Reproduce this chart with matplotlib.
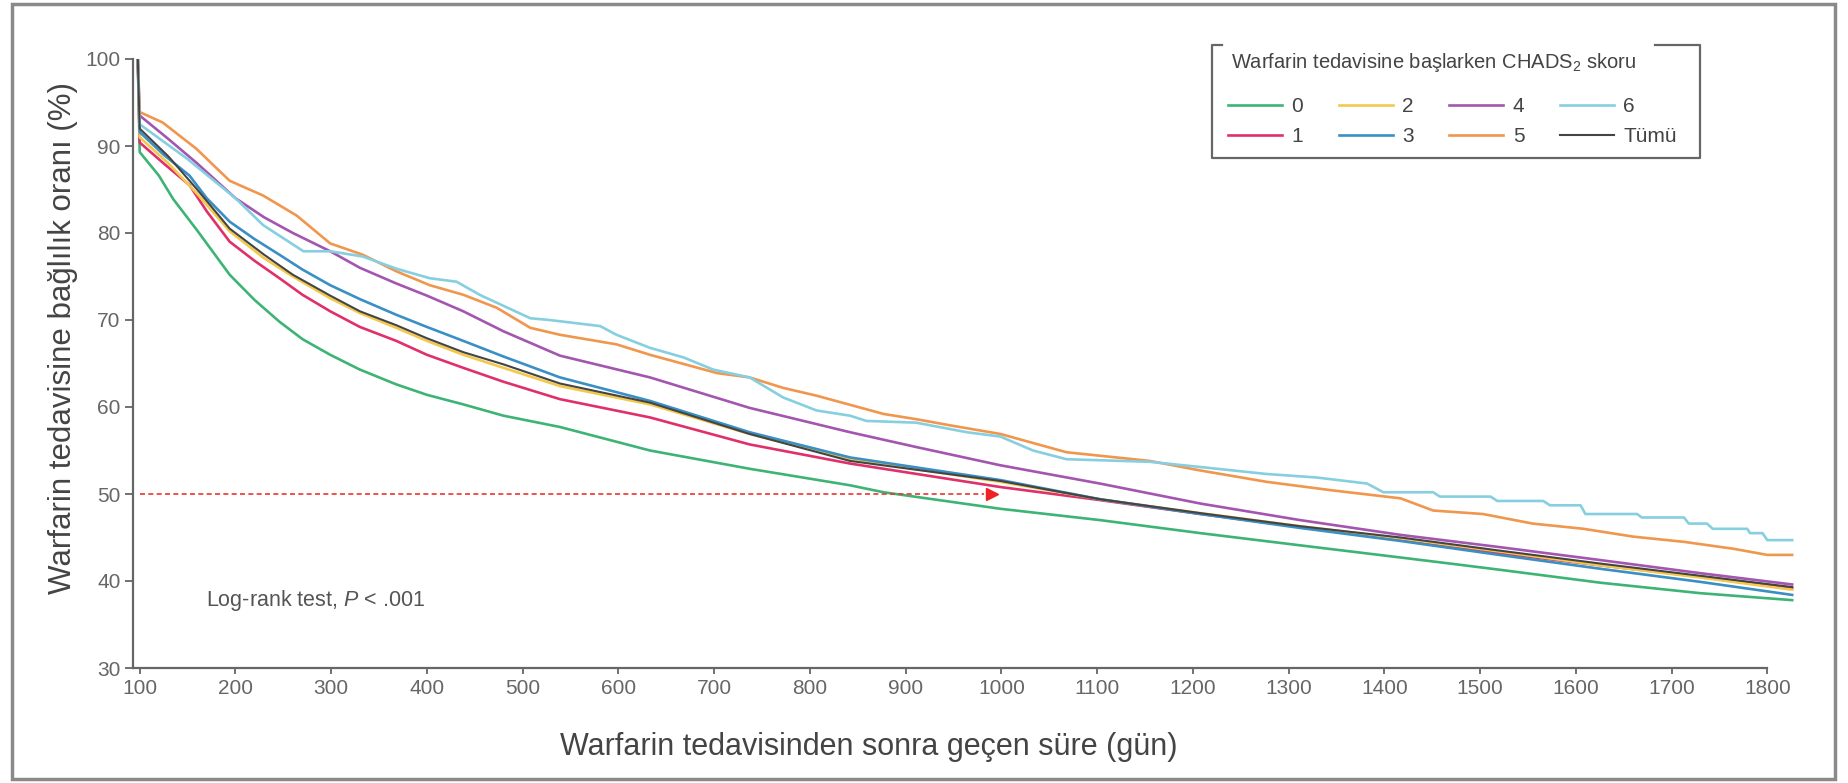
import matplotlib
matplotlib.use("Agg")
import matplotlib.pyplot as plt
from matplotlib.lines import Line2D
from matplotlib.patches import Rectangle

plt.rcParams["font.family"] = ["Liberation Sans", "DejaVu Sans"]
plt.rcParams["mathtext.fontset"] = "custom"
plt.rcParams["mathtext.rm"] = "Liberation Sans"
plt.rcParams["mathtext.it"] = "Liberation Sans:italic"

# --- data ---
days_0 = [98, 100, 120, 135, 160, 194, 220, 246, 270, 299, 330, 368, 400, 438, 480, 539, 633, 737, 842, 877, 999,
          1103, 1208, 1312, 1417, 1469, 1520, 1626, 1730, 1826]
score_0 = [100, 89.3, 86.6, 83.9, 80.3, 75.2, 72.3, 69.8, 67.8, 66.0, 64.3, 62.6, 61.4, 60.3, 59.0, 57.7, 55.0, 52.9, 51.0, 50.2, 48.3,
           47.0, 45.5, 44.1, 42.7, 42.0, 41.3, 39.8, 38.6, 37.8]

days_1 = [98, 100, 125, 152, 170, 194, 220, 246, 270, 299, 330, 368, 400, 438, 480, 539, 633, 737, 842, 999,
          1103, 1208, 1312, 1417, 1469, 1520, 1626, 1730, 1826]
score_1 = [100, 90.4, 88.0, 85.5, 82.5, 79.0, 76.8, 74.8, 72.9, 71.0, 69.2, 67.6, 66.0, 64.5, 62.9, 60.9, 58.8, 55.7, 53.5, 50.8,
           49.3, 47.7, 46.2, 44.7, 43.9, 43.2, 41.8, 40.5, 39.2]

days_2 = [98, 100, 130, 160, 194, 230, 260, 299, 330, 368, 400, 438, 480, 539, 633, 737, 842, 999,
          1103, 1208, 1312, 1417, 1520, 1626, 1730, 1826]
score_2 = [100, 91.0, 88.0, 84.5, 80.2, 77.1, 75.0, 72.5, 70.8, 69.1, 67.6, 66.0, 64.5, 62.4, 60.3, 56.9, 54.0, 51.4,
           49.4, 47.8, 46.3, 44.9, 43.4, 41.8, 40.4, 39.0]

days_3 = [98, 100, 125, 152, 170, 194, 220, 246, 270, 299, 330, 368, 400, 438, 480, 539, 633, 737, 842, 999,
          1103, 1208, 1312, 1417, 1520, 1626, 1730, 1826]
score_3 = [100, 91.6, 89.0, 86.6, 84.0, 81.3, 79.3, 77.5, 75.8, 74.0, 72.4, 70.6, 69.2, 67.6, 65.8, 63.4, 60.7, 57.1, 54.2, 51.6,
           49.4, 47.7, 46.1, 44.6, 43.0, 41.4, 39.9, 38.4]

days_4 = [98, 100, 130, 159, 200, 230, 260, 299, 330, 368, 400, 438, 480, 539, 633, 737, 842, 911, 999,
          1103, 1208, 1312, 1417, 1520, 1626, 1730, 1826]
score_4 = [100, 93.5, 90.8, 88.1, 84.0, 81.8, 80.0, 77.9, 76.0, 74.2, 72.8, 71.0, 68.7, 65.9, 63.4, 59.9, 57.1, 55.4, 53.3,
           51.2, 48.9, 47.0, 45.3, 43.9, 42.4, 40.9, 39.6]

days_5 = [98, 100, 124, 159, 194, 229, 264, 299, 333, 368, 403, 438, 473, 508, 539, 598, 633, 703, 737, 772, 807, 877, 911, 946, 999,
          1068, 1155, 1208, 1277, 1347, 1417, 1451, 1503, 1555, 1608, 1660, 1713, 1765, 1800, 1826]
score_5 = [100, 93.9, 92.7, 89.7, 86.0, 84.3, 82.0, 78.8, 77.5, 75.6, 74.0, 72.9, 71.4, 69.1, 68.3, 67.2, 66.0, 63.9, 63.4, 62.2, 61.3, 59.2, 58.6, 57.9, 56.9,
           54.8, 53.8, 52.7, 51.4, 50.4, 49.5, 48.1, 47.7, 46.6, 46.0, 45.1, 44.5, 43.7, 43.0, 43.0]

days_6 = [98, 100, 150, 200, 229, 271, 299, 333, 368, 403, 431, 455, 508, 528, 581, 598, 633, 668, 699, 737, 772, 807, 842, 859, 911, 964, 999,
          1033, 1068, 1155, 1208, 1277, 1329, 1382, 1399, 1451, 1458, 1511, 1518, 1566, 1573, 1605, 1610, 1664, 1669, 1713, 1718, 1737,
          1743, 1779, 1782, 1795, 1800, 1826]
score_6 = [100, 92.5, 88.5, 84.0, 80.9, 77.9, 77.9, 77.3, 75.9, 74.8, 74.4, 72.9, 70.2, 70.0, 69.3, 68.3, 66.8, 65.7, 64.3, 63.4, 61.1, 59.6, 59.0, 58.4, 58.2, 57.1, 56.6,
           55.0, 54.0, 53.7, 53.1, 52.3, 51.9, 51.2, 50.2, 50.2, 49.7, 49.7, 49.2, 49.2, 48.7, 48.7, 47.7, 47.7, 47.3, 47.3, 46.6, 46.6,
           46.0, 46.0, 45.5, 45.5, 44.7, 44.7]

days_all = [98, 100, 130, 160, 194, 230, 260, 299, 330, 368, 400, 438, 480, 539, 633, 737, 842, 999,
            1103, 1208, 1312, 1417, 1520, 1626, 1730, 1826]
score_all = [100, 92.0, 88.8, 85.0, 80.5, 77.5, 75.2, 72.8, 71.0, 69.4, 67.9, 66.3, 64.9, 62.7, 60.5, 56.9, 53.8, 51.5,
             49.4, 47.8, 46.3, 45.0, 43.5, 42.0, 40.6, 39.3]

labels = ["0", "1", "2", "3", "4", "5", "6", "Tümü"]
colors = ["#3db475", "#e0306a", "#f2c94c", "#3a8fc4", "#a355b0", "#f0964d", "#86cfe0", "#444444"]

median_day = 990
x_ticks = list(range(100, 1900, 100))
y_ticks = list(range(30, 110, 10))

W, H = 1849, 783


def fx(px):
    return px / W


def fy(py):
    return 1 - py / H


fig = plt.figure(figsize=(W / 100, H / 100), dpi=100)
ax = fig.add_axes([fx(133), fy(668), (1796 - 133) / W, (668 - 59) / H])

series = [(days_0, score_0), (days_1, score_1), (days_2, score_2), (days_3, score_3),
          (days_4, score_4), (days_5, score_5), (days_6, score_6), (days_all, score_all)]
handles = []
for (d, s), lab, col in zip(series, labels, colors):
    lw = 1.5 if lab == "Tümü" else 1.9
    h, = ax.plot(d, s, color=col, lw=lw, label=lab, solid_joinstyle="round")
    handles.append(h)

# 50% line with arrow
ax.plot([100, median_day - 8], [50, 50], color="#ee3333", lw=1.2, ls=(0, (3, 2)))
ax.plot([median_day], [50], marker=">", color="#ee2222", markersize=9, ls="none")

ax.set_xlim(93, 1830)
ax.set_ylim(30, 100)
ax.set_xticks(x_ticks)
ax.set_yticks(y_ticks)
for side in ["top", "right"]:
    ax.spines[side].set_visible(False)
for side in ["left", "bottom"]:
    ax.spines[side].set_color("#666666")
    ax.spines[side].set_linewidth(1.6)
ax.spines["left"].set_bounds(30, 100)
ax.spines["bottom"].set_bounds(93, 1800)
ax.tick_params(axis="x", direction="out", length=4, width=1.3, colors="#666666", labelsize=15, pad=4)
ax.tick_params(axis="y", direction="out", length=6, width=1.3, colors="#666666", labelsize=15, pad=3)

ax.set_xlabel("Warfarin tedavisinden sonra geçen süre (gün)", fontsize=22, color="#444444")
ax.set_ylabel("Warfarin tedavisine bağlılık oranı (%)", fontsize=22.5, color="#444444")
ax.xaxis.set_label_coords(0.4426, -0.105)
ax.yaxis.set_label_coords(-0.033, 0.542)

ax.text(169, 37.8, "Log-rank test, $P$ < .001", fontsize=15.5, color="#555555", va="center")

leg = ax.legend(handles=handles, ncol=4, loc="upper left", bbox_to_anchor=(fx(1228), fy(97)),
                bbox_transform=fig.transFigure, frameon=False, fontsize=15, borderaxespad=0,
                handlelength=2.6, handletextpad=0.45, columnspacing=1.7, labelspacing=0.55, borderpad=0)
for t in leg.get_texts():
    t.set_color("#444444")
fig.text(fx(1231), fy(63), "Warfarin tedavisine başlarken CHADS$_2$ skoru", fontsize=14.5,
         color="#444444", va="center", ha="left")

# legend bracket frame
frame_kw = dict(color="#666666", lw=1.6, transform=fig.transFigure)
fig.add_artist(Line2D([fx(1222), fx(1212), fx(1212), fx(1700), fx(1700), fx(1655)],
                      [fy(45), fy(45), fy(158), fy(158), fy(45), fy(45)], **frame_kw))

# outer border
fig.add_artist(Rectangle((fx(12), fy(779)), fx(1835) - fx(12), fy(4) - fy(779),
                         transform=fig.transFigure, fill=False, edgecolor="#8a8a8a", lw=2.5))

fig.savefig("out.png", dpi=100)
